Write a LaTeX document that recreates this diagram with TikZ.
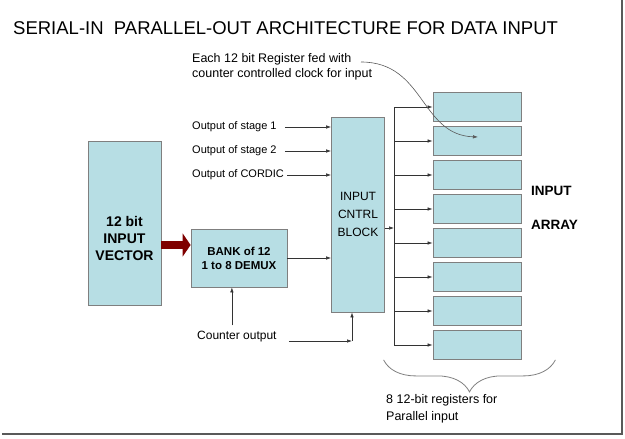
\documentclass[tikz,border=0pt]{standalone}
\usepackage{fontspec}
\setmainfont{Liberation Sans}
\usepackage{xcolor}
\usepackage{tikz}
\usetikzlibrary{arrows.meta,positioning,calc,decorations.pathreplacing}
\definecolor{regfill}{HTML}{B7DEE4}
\definecolor{regline}{HTML}{7F7F7F}
\definecolor{feedred}{HTML}{7F0000}

\begin{document}
\begin{tikzpicture}[
    x=1pt, y=-1pt,
    node distance=4.2pt,
    block/.style={rectangle, draw=regline, fill=regfill, line width=0.8pt, align=center, inner sep=0pt},
    reg/.style={block, minimum width=88pt, minimum height=29pt},
    sigtext/.style={inner sep=0pt, anchor=west, align=left, font=\fontsize{11}{13}\selectfont},
    arrow/.style={-{Latex[length=5pt,width=3.5pt]}, draw=black!80, line width=0.6pt},
    feedarrow/.style={-{Triangle[length=8pt,width=23pt]}, draw=feedred, line width=8pt},
    brace/.style={decorate, decoration={brace, mirror, amplitude=32pt}, draw=regline, line width=0.8pt}
]
\useasboundingbox (0,0) rectangle (625,439);

% slide frame shadow
\draw [draw=black!65, line width=2pt] (2,434) -- (622,434) -- (622,0);

\node [inner sep=0pt, anchor=west, font=\fontsize{18.5}{22}\selectfont] (title) at (13,28) {SERIAL-IN\ \ PARALLEL-OUT ARCHITECTURE FOR DATA INPUT};

\node [block, minimum width=73pt, minimum height=164pt] (vector) at (124.5,223) {};
\node [inner sep=0pt, align=center, font=\bfseries\fontsize{14}{17}\selectfont] (vectortext) at ([yshift=-15pt]vector.center) {12 bit\\INPUT\\VECTOR};
\node [block, minimum width=96pt, minimum height=58pt, font=\bfseries\fontsize{11.5}{14}\selectfont] (bank) at (239,258) {BANK of 12\\1 to 8 DEMUX};
\node [block, minimum width=53pt, minimum height=195pt, font=\fontsize{12}{18}\selectfont] (cntrl) at (358,214.5) {INPUT\\CNTRL\\BLOCK};

\node [reg] (reg1) at (477,107) {};
\node [reg, below=of reg1] (reg2) {};
\node [reg, below=of reg2] (reg3) {};
\node [reg, below=of reg3] (reg4) {};
\node [reg, below=of reg4] (reg5) {};
\node [reg, below=of reg5] (reg6) {};
\node [reg, below=of reg6] (reg7) {};
\node [reg, below=of reg7] (reg8) {};

\node [sigtext] (stage1) at (192,127) {Output of stage 1};
\node [sigtext] (stage2) at (192,151) {Output of stage 2};
\node [sigtext] (cordic) at (192,175) {Output of CORDIC};
\node [sigtext, font=\fontsize{12}{14}\selectfont] (counter) at (197,337) {Counter output};
\node [sigtext, font=\fontsize{12.5}{15}\selectfont] (note) at (192,67) {Each 12 bit Register fed with\\counter controlled clock for input};
\node [sigtext, font=\fontsize{12.5}{17}\selectfont] (caption) at (386,409) {8 12-bit registers for\\Parallel input};
\node [sigtext, font=\bfseries\fontsize{13.5}{34}\selectfont] (array) at (531,208) {INPUT\\ARRAY};

\coordinate (feed) at ([yshift=13pt]bank.west);
\coordinate (tap) at (352,341);
\coordinate (bus) at (394,228);
\coordinate (notetail) at (361,62);
\coordinate (clk) at (478,137);

\draw [feedarrow] (vector.east |- feed) -- (feed);
\draw [arrow] (bank.east) -- (bank.east -| cntrl.west);
\draw [arrow, shorten <=8pt] (stage1.east) -- (stage1.east -| cntrl.west);
\draw [arrow, shorten <=8pt] (stage2.east) -- (stage2.east -| cntrl.west);
\draw [arrow, shorten <=3pt] (cordic.east) -- (cordic.east -| cntrl.west);
\draw [arrow, shorten <=6pt] ([xshift=-5pt]counter.north) -- ([xshift=-5pt]counter.north |- bank.south);
\draw [arrow, shorten <=12pt] (counter.east |- tap) -- (tap);
\draw [arrow] (tap) -- (tap |- cntrl.south);

\draw [arrow] (cntrl.east |- bus) -- (bus);
\draw [draw=black!80, line width=0.6pt] (bus |- reg1) -- (bus |- reg8);
\draw [arrow] (bus |- reg1) -- (reg1);
\draw [arrow] (bus |- reg2) -- (reg2);
\draw [arrow] (bus |- reg3) -- (reg3);
\draw [arrow] (bus |- reg4) -- (reg4);
\draw [arrow] (bus |- reg5) -- (reg5);
\draw [arrow] (bus |- reg6) -- (reg6);
\draw [arrow] (bus |- reg7) -- (reg7);
\draw [arrow] (bus |- reg8) -- (reg8);

\draw [arrow, draw=black!65] (notetail) .. controls (425,62) and (420,135) .. (clk);
\draw [brace] ([xshift=-49pt]reg8.south west) -- ([xshift=34pt]reg8.south east);

\end{tikzpicture}
\end{document}
